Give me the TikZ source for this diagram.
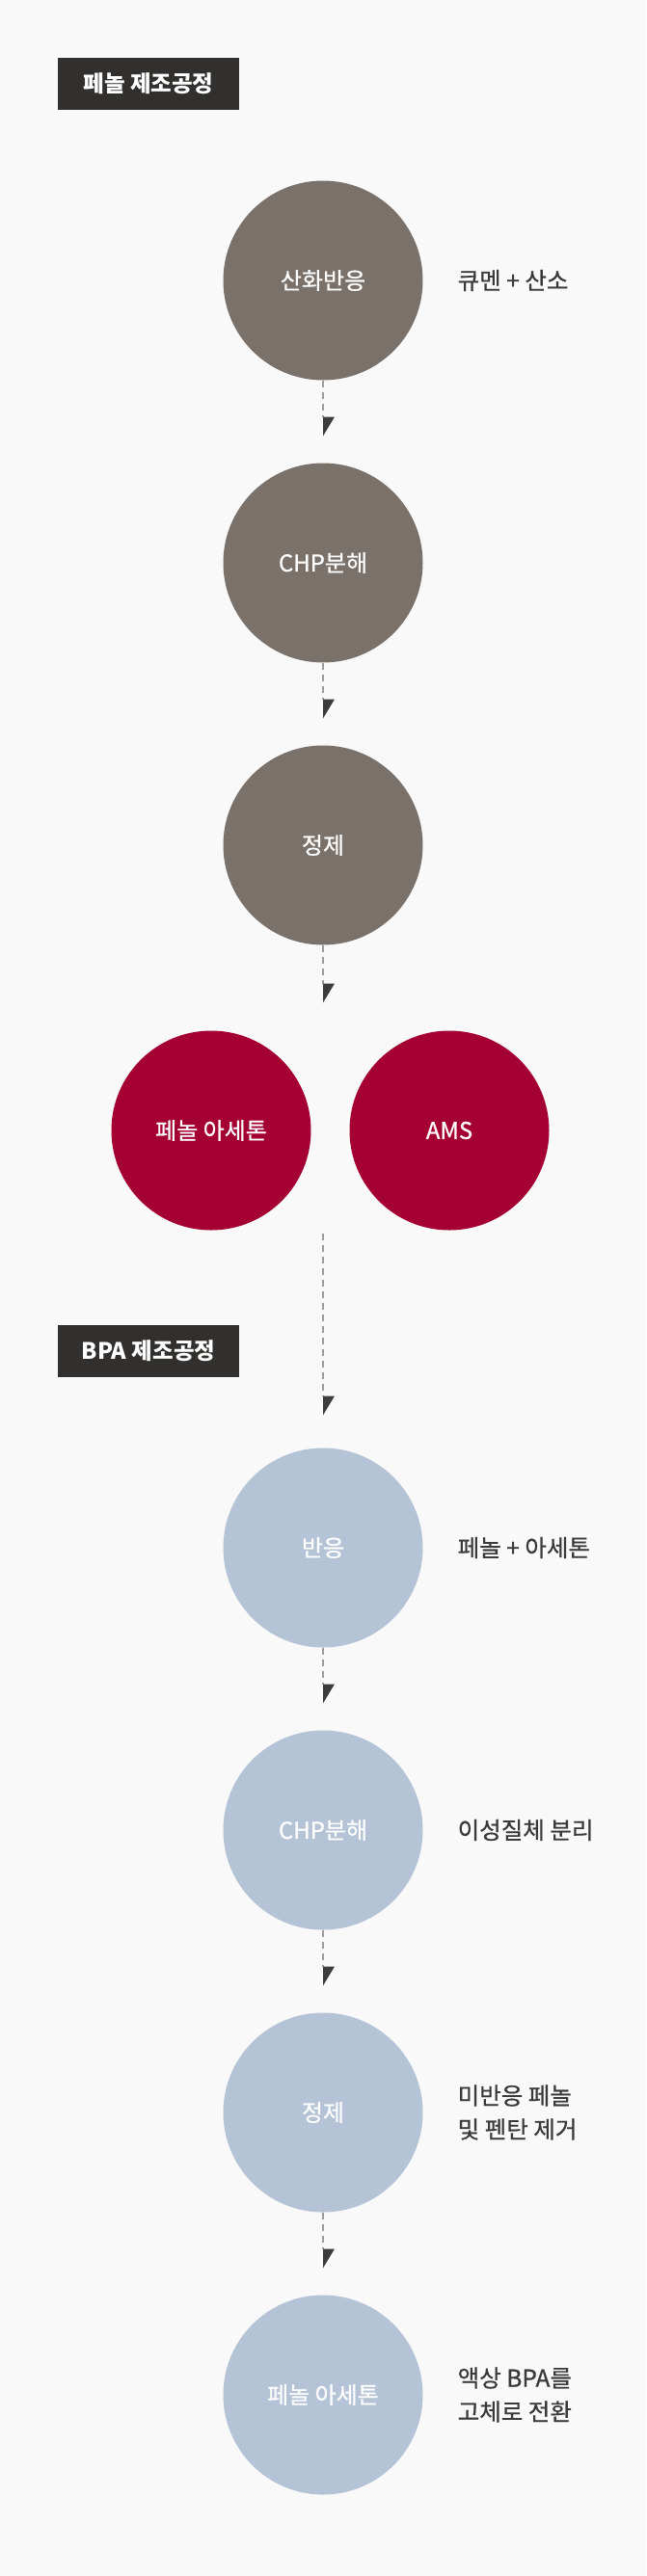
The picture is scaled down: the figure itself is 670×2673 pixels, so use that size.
\documentclass[tikz,border=0pt]{standalone}
\usepackage{fontspec}
\setmainfont{Noto Sans CJK KR}
\newfontfamily\medfont[FakeBold=0.7]{Noto Sans CJK KR}
\usetikzlibrary{positioning,arrows.meta}

\definecolor{bgc}{HTML}{F9F9F9}
\definecolor{titlec}{HTML}{32302E}
\definecolor{grayc}{HTML}{7A716B}
\definecolor{redc}{HTML}{A50034}
\definecolor{bluec}{HTML}{B4C3D6}
\definecolor{textc}{HTML}{3A3A3A}
\definecolor{linec}{HTML}{9B9B9B}
\definecolor{headc}{HTML}{3C3C3C}

\begin{document}
\begin{tikzpicture}[x=1pt, y=1pt, node distance={86pt},
	main/.style={circle, fill=grayc, text=white, minimum size=207pt, inner sep=0pt, outer sep=0pt, font=\medfont\fontsize{24}{28}\selectfont},
	hot/.style={main, fill=redc},
	cool/.style={main, fill=bluec},
	title/.style={fill=titlec, text=white, minimum width=188pt, minimum height=54pt, inner sep=0pt, font=\fontsize{23.5}{28}\selectfont\bfseries},
	note/.style={text=textc, align=left, inner sep=0pt, font=\medfont\fontsize{24.5}{35}\selectfont},
	flow/.style={draw=linec, line width=1.5pt, dash pattern=on 7pt off 5pt, -{Triangle[length=20pt, width=24pt, left, color=headc, fill=headc, line width=0pt]}}]
		\useasboundingbox[fill=bgc] (0,0) rectangle (670,-2673);

		% phenol
		\node[title] (t1) at (154,-87) {페놀 제조공정};
		\node[main] (p1) at (335,-291) {산화반응};
		\node[main] (p2) [below=of p1] {CHP분해};
		\node[main] (p3) [below=of p2] {정제};
		\node[hot] (pa) at (219,-1173) {페놀 아세톤};
		\node[hot] (ams) at (466,-1173) {AMS};
		\node[note] (n1) [right=36pt of p1] {큐멘 + 산소};

		\draw[flow] (p1.south) -- ([yshift=28pt]p2.north);
		\draw[flow] (p2.south) -- ([yshift=28pt]p3.north);
		\draw[flow] (p3.south) -- ([yshift=29pt]p3.south |- pa.north);

		% BPA
		\node[title] (t2) at (154,-1402) {BPA 제조공정};
		\node[cool] (b1) at (335,-1606) {반응};
		\node[cool] (b2) [below=of b1] {CHP분해};
		\node[cool] (b3) [below=of b2] {정제};
		\node[cool] (b4) [below=of b3] {페놀 아세톤};
		\node[note] (n2) [right=36pt of b1] {페놀 + 아세톤};
		\node[note] (n3) [right=36pt of b2] {이성질체 분리};
		\node[note] (n4) [right=36pt of b3] {미반응 페놀\\및 펜탄 제거};
		\node[note] (n5) [right=36pt of b4] {액상 BPA를\\고체로 전환};

		\draw[flow] ([yshift=-3pt]b1 |- pa.south) -- ([yshift=34pt]b1.north);
		\draw[flow] (b1.south) -- ([yshift=28pt]b2.north);
		\draw[flow] (b2.south) -- ([yshift=28pt]b3.north);
		\draw[flow] (b3.south) -- ([yshift=28pt]b4.north);
	\end{tikzpicture}
\end{document}
